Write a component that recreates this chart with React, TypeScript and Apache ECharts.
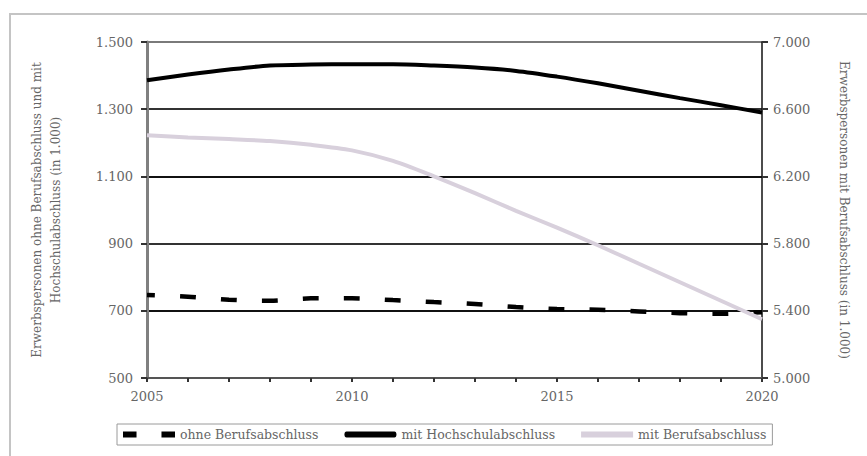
import React, { useEffect, useRef } from "react";
import * as echarts from "echarts";

const years = [2005, 2006, 2007, 2008, 2009, 2010, 2011, 2012, 2013, 2014, 2015, 2016, 2017, 2018, 2019, 2020];
const ohneBerufsabschluss = [747, 742, 733, 730, 737, 737, 732, 726, 720, 711, 705, 703, 698, 693, 691, 696];
const mitHochschulabschluss = [1386, 1403, 1418, 1430, 1433, 1434, 1434, 1430, 1424, 1414, 1397, 1377, 1355, 1333, 1312, 1290];
const mitBerufsabschluss = [6445, 6432, 6422, 6410, 6388, 6355, 6292, 6200, 6100, 5995, 5895, 5790, 5680, 5570, 5460, 5350];
const seriesNames = ["ohne Berufsabschluss", "mit Hochschulabschluss", "mit Berufsabschluss"];
const leftAxisTitle = "Erwerbspersonen ohne Berufsabschluss und mit\nHochschulabschluss (in 1.000)";
const rightAxisTitle = "Erwerbspersonen mit Berufsabschluss (in 1.000)";

const FONT = "'DejaVu Serif', 'Liberation Serif', serif";
const fmt = (v: number) => {
  const s = String(Math.round(v));
  return s.length > 3 ? s.slice(0, s.length - 3) + "." + s.slice(-3) : s;
};
const pair = (vals: number[]) => years.map((y, i) => [y, vals[i]]);

export default function App() {
  const ref = useRef<HTMLDivElement>(null);
  useEffect(() => {
    if (!ref.current) return;
    const chart = echarts.init(ref.current, undefined, { renderer: "svg" });
    chart.setOption({
      animation: false,
      backgroundColor: "#ffffff",
      textStyle: { fontFamily: FONT },
      graphic: [
        {
          type: "rect",
          shape: { x: 10, y: 14, width: 880, height: 470 },
          style: { fill: "none", stroke: "#c4c4c4", lineWidth: 2 },
          silent: true,
        },
      ],
      grid: { left: 147, right: 105, top: 42, bottom: 78 },
      legend: {
        data: [
          { name: seriesNames[0], icon: "path://M0,0H13V5H0ZM37,0H50V5H37Z" },
          { name: seriesNames[1], icon: "path://M2,0H48Q50,0 50,3Q50,6 48,6H2Q0,6 0,3Q0,0 2,0Z" },
          { name: seriesNames[2], icon: "path://M0,0H50V4H0Z" },
        ],
        symbolKeepAspect: false,
        left: 117,
        top: 424,
        itemWidth: 52,
        itemHeight: 6,
        itemGap: 26,
        padding: [4, 6],
        borderColor: "#9a9a9a",
        borderWidth: 1,
        textStyle: { fontFamily: FONT, fontSize: 12.5, color: "#666" },
      },
      xAxis: {
        type: "value",
        min: 2005,
        max: 2020,
        interval: 5,
        axisLine: { show: true, lineStyle: { color: "#555", width: 2 } },
        axisTick: { show: true, length: 4, lineStyle: { color: "#333", width: 2 } },
        minorTick: { show: true, splitNumber: 5, length: 4, lineStyle: { color: "#333", width: 2 } },
        splitLine: { show: false },
        axisLabel: { fontFamily: FONT, fontSize: 13, color: "#666", margin: 12, formatter: (v: number) => String(v) },
      },
      yAxis: [
        {
          type: "value",
          min: 500,
          max: 1500,
          interval: 200,
          axisLine: { show: true, onZero: false, lineStyle: { color: "#808080", width: 3 } },
          axisTick: { show: true, length: 6, lineStyle: { color: "#333", width: 2 } },
          splitLine: { show: true, lineStyle: { color: ["#555", "#111", "#333", "#111", "#333", "#7a7a7a"], width: 2 } },
          axisLabel: { fontFamily: FONT, fontSize: 13, color: "#666", margin: 14, formatter: fmt },
          name: leftAxisTitle,
          nameLocation: "middle",
          nameRotate: 90,
          nameGap: 82,
          nameTextStyle: { fontFamily: FONT, fontSize: 12, color: "#666", lineHeight: 19 },
        },
        {
          type: "value",
          min: 5000,
          max: 7000,
          interval: 400,
          position: "right",
          axisLine: { show: true, onZero: false, lineStyle: { color: "#111", width: 1.5 } },
          axisTick: { show: true, length: 6, lineStyle: { color: "#333", width: 2 } },
          splitLine: { show: false },
          axisLabel: { fontFamily: FONT, fontSize: 13, color: "#666", margin: 11, formatter: fmt },
          name: rightAxisTitle,
          nameLocation: "middle",
          nameRotate: -90,
          nameGap: 76,
          nameTextStyle: { fontFamily: FONT, fontSize: 12, color: "#666" },
        },
      ],
      series: [
        {
          name: seriesNames[0],
          type: "line",
          yAxisIndex: 0,
          data: pair(ohneBerufsabschluss),
          symbol: "none",
          smooth: 0.3,
          lineStyle: { color: "#000", width: 4.5, type: [16, 25], dashOffset: 8 },
          itemStyle: { color: "#000" },
        },
        {
          name: seriesNames[1],
          type: "line",
          yAxisIndex: 0,
          data: pair(mitHochschulabschluss),
          symbol: "none",
          smooth: 0.3,
          lineStyle: { color: "#000", width: 4 },
          itemStyle: { color: "#000" },
        },
        {
          name: seriesNames[2],
          type: "line",
          yAxisIndex: 1,
          data: pair(mitBerufsabschluss),
          symbol: "none",
          smooth: 0.3,
          lineStyle: { color: "#d8d0dc", width: 4 },
          itemStyle: { color: "#d8d0dc" },
        },
      ],
    });
    return () => chart.dispose();
  }, []);
  return <div ref={ref} style={{ position: "fixed", left: 0, top: 0, width: 867, height: 456 }} />;
}
